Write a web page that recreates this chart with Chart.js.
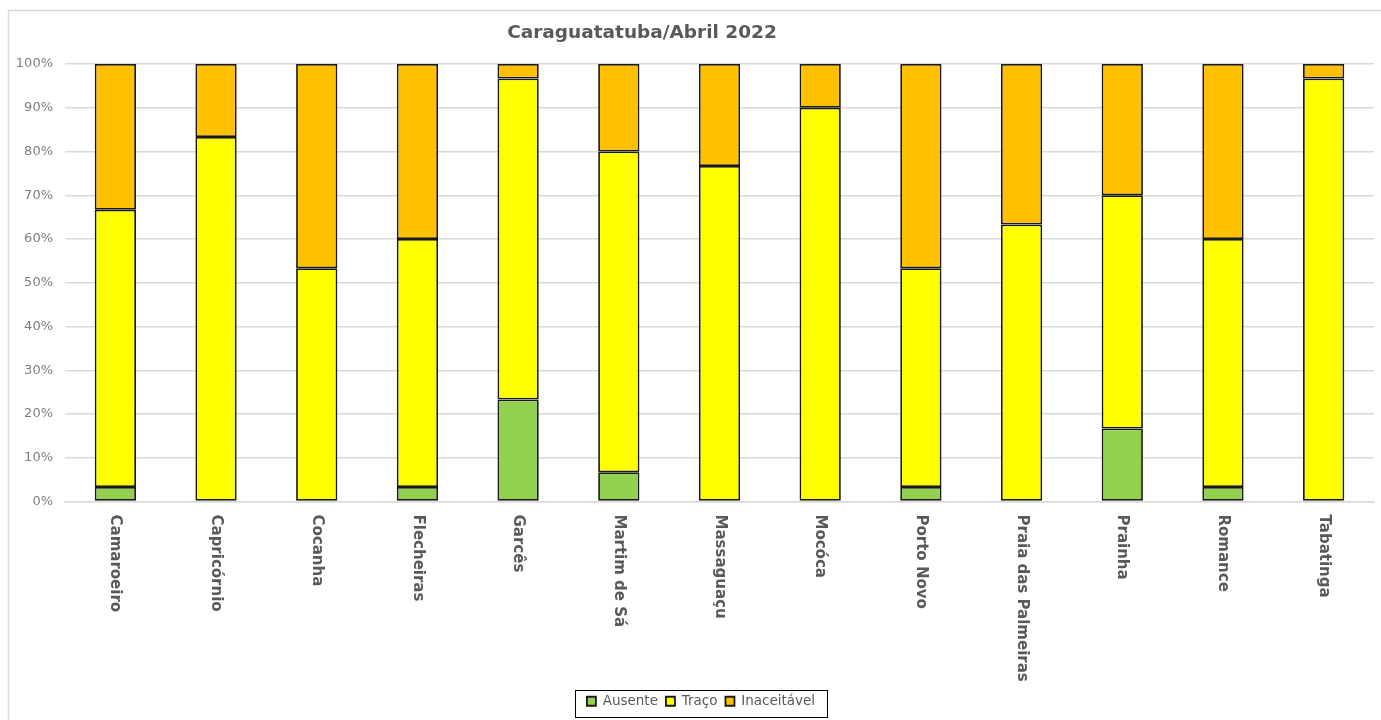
<!DOCTYPE html>
<html>
<head>
<meta charset="utf-8">
<script src="https://cdn.jsdelivr.net/npm/chart.js@4"></script>
<style>
  html, body { margin: 0; padding: 0; background: #fff; }
  #wrap { width: 1381px; height: 720px; position: relative; }
</style>
</head>
<body>
<div id="wrap"><canvas id="chart"></canvas></div>
<script>
// Praias de Caraguatatuba, abril 2022 (% das amostras)
const praias = [
  "Camaroeiro", "Capricórnio", "Cocanha", "Flecheiras", "Garcês",
  "Martim de Sá", "Massaguaçu", "Mocóca", "Porto Novo",
  "Praia das Palmeiras", "Prainha", "Romance", "Tabatinga"
];
const ausente     = [3.3, 0, 0, 3.3, 23.3, 6.7, 0, 0, 3.3, 0, 16.7, 3.3, 0];
const traco       = [63.4, 83.3, 53.3, 56.7, 73.4, 73.3, 76.7, 90, 50, 63.3, 53.3, 56.7, 96.7];
const inaceitavel = [33.3, 16.7, 46.7, 40, 3.3, 20, 23.3, 10, 46.7, 36.7, 30, 40, 3.3];
const yTicks = [0, 10, 20, 30, 40, 50, 60, 70, 80, 90, 100];

const FONT = "'DejaVu Sans', sans-serif";
const LEGEND_SHIFT = 10;

// moldura, titulo, rotulos girados e borda da legenda
const extras = {
  id: "extras",
  afterLayout(chart) {
    chart.legend.left += LEGEND_SHIFT;
    chart.legend.right += LEGEND_SHIFT;
  },
  beforeDraw(chart) {
    const ctx = chart.ctx;
    ctx.save();
    ctx.fillStyle = "#fff";
    ctx.fillRect(0, 0, chart.width, chart.height);
    ctx.strokeStyle = "#d9d9d9";
    ctx.lineWidth = 1.5;
    ctx.strokeRect(8.5, 10.5, chart.width + 20, chart.height + 20);
    ctx.restore();
  },
  afterDraw(chart) {
    const ctx = chart.ctx;
    ctx.save();
    ctx.fillStyle = "#595959";
    ctx.font = "bold 18.5px " + FONT;
    ctx.textAlign = "center";
    ctx.textBaseline = "middle";
    ctx.fillText("Caraguatatuba/Abril 2022", 642, 33);

    // rotulos do eixo x, lidos de cima para baixo
    const xs = chart.scales.x;
    ctx.font = "bold 15px " + FONT;
    ctx.textAlign = "left";
    praias.forEach((p, i) => {
      ctx.save();
      ctx.translate(xs.getPixelForTick(i), xs.top + 13);
      ctx.rotate(Math.PI / 2);
      ctx.fillText(p, 0, 0);
      ctx.restore();
    });

    // borda da legenda
    const boxes = chart.legend.legendHitBoxes;
    if (boxes && boxes.length) {
      const first = boxes[0], last = boxes[boxes.length - 1];
      const x0 = Math.round(first.left - 12), x1 = Math.round(last.left + last.width + 12);
      ctx.strokeStyle = "#000";
      ctx.lineWidth = 1;
      ctx.strokeRect(x0 + 0.5, 690.5, x1 - x0, 27);
    }
    ctx.restore();
  }
};

const ctx = document.getElementById("chart").getContext("2d");
new Chart(ctx, {
  type: "bar",
  data: {
    labels: praias,
    datasets: [
      { label: "Ausente", data: ausente, backgroundColor: "#92d050" },
      { label: "Traço", data: traco, backgroundColor: "#ffff00" },
      { label: "Inaceitável", data: inaceitavel, backgroundColor: "#ffc000" }
    ].map(d => Object.assign(d, {
      borderColor: "#1a1a1a",
      borderWidth: 1.8,
      borderSkipped: false,
      barPercentage: 0.41,
      categoryPercentage: 1
    }))
  },
  options: {
    responsive: true,
    maintainAspectRatio: false,
    animation: false,
    layout: { padding: { top: 64, left: 8, right: 7, bottom: 2 } },
    plugins: {
      title: { display: false },
      tooltip: { enabled: false },
      legend: {
        position: "bottom",
        labels: {
          font: { family: FONT, size: 13.5 },
          color: "#595959",
          boxWidth: 9,
          boxHeight: 9,
          padding: 8,
          useBorderRadius: false
        }
      }
    },
    scales: {
      x: {
        stacked: true,
        grid: { display: false },
        border: { color: "#d9d9d9", width: 1.5 },
        ticks: { display: false },
        afterFit(scale) { scale.height = 185; }
      },
      y: {
        stacked: true,
        min: 0,
        max: 100,
        afterBuildTicks(scale) { scale.ticks = yTicks.map(v => ({ value: v })); },
        grid: { color: "#d9d9d9", lineWidth: 1.5, drawTicks: false },
        border: { display: false },
        ticks: {
          color: "#7f7f7f",
          font: { family: FONT, size: 13 },
          padding: 12,
          callback: v => v + "%"
        },
        afterFit(scale) { scale.width = 57; }
      }
    }
  },
  plugins: [extras]
});
</script>
</body>
</html>
